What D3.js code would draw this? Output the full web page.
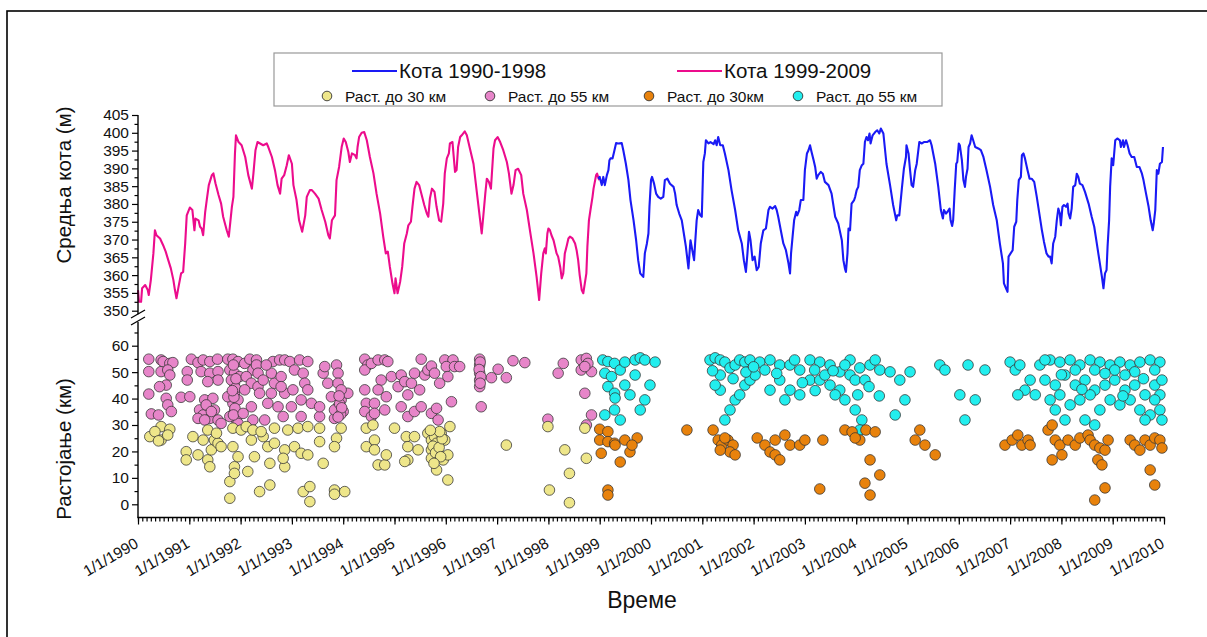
<!DOCTYPE html>
<html>
<head>
<meta charset="utf-8">
<script src="https://cdn.jsdelivr.net/npm/d3@7"></script>
<style>
  body { margin: 0; background: #fff; }
  svg text { font-family: "Liberation Sans", Arial, sans-serif; fill: #111; }
</style>
</head>
<body>
<script>
// mean water level (m), [decimal year, level]
var levelEarly = [
  [1990.00,355.8],[1990.02,352.5],[1990.06,352.5],[1990.08,356.3],[1990.14,357.2],[1990.19,355.8],[1990.21,354.4],
  [1990.25,358.6],[1990.30,366.1],[1990.33,372.6],[1990.36,371.2],[1990.43,370.3],[1990.49,368.4],[1990.54,366.6],
  [1990.59,364.2],[1990.64,361.9],[1990.69,358.6],[1990.72,355.8],[1990.75,353.5],[1990.79,356.7],[1990.84,360.5],
  [1990.88,360.9],[1990.92,368.9],[1990.95,376.8],[1991.01,379.0],[1991.06,378.3],[1991.10,372.6],[1991.12,375.9],
  [1991.18,375.4],[1991.21,373.6],[1991.24,373.1],[1991.27,371.2],[1991.31,377.8],[1991.34,381.1],[1991.38,385.3],
  [1991.44,388.1],[1991.47,388.6],[1991.51,385.8],[1991.57,382.5],[1991.62,380.1],[1991.66,376.4],[1991.73,372.6],
  [1991.77,370.8],[1991.83,379.2],[1991.86,382.0],[1991.89,394.2],[1991.91,399.3],[1991.96,397.4],[1992.02,396.5],
  [1992.09,393.2],[1992.15,388.1],[1992.22,384.3],[1992.25,388.6],[1992.29,395.1],[1992.33,397.4],[1992.38,397.0],
  [1992.44,396.5],[1992.51,397.0],[1992.54,396.0],[1992.61,393.2],[1992.67,389.5],[1992.72,385.3],[1992.77,382.9],
  [1992.80,387.1],[1992.85,388.1],[1992.90,390.9],[1992.94,393.7],[1993.00,391.3],[1993.03,385.3],[1993.09,381.1],
  [1993.14,375.4],[1993.20,372.2],[1993.26,376.8],[1993.29,382.0],[1993.35,383.9],[1993.39,383.9],[1993.45,382.9],
  [1993.52,381.5],[1993.58,378.3],[1993.65,375.0],[1993.71,371.2],[1993.74,370.3],[1993.78,375.4],[1993.84,376.8],
  [1993.87,386.7],[1993.92,390.4],[1993.97,396.0],[1994.01,398.4],[1994.05,397.4],[1994.10,394.6],[1994.13,391.8],
  [1994.17,394.2],[1994.23,393.7],[1994.26,392.8],[1994.28,396.0],[1994.31,398.8],[1994.36,400.0],[1994.41,400.2],
  [1994.46,397.9],[1994.52,393.2],[1994.59,388.6],[1994.65,382.9],[1994.72,377.3],[1994.78,370.8],[1994.83,366.1],
  [1994.87,366.6],[1994.91,362.3],[1994.96,357.7],[1995.00,354.9],[1995.02,359.1],[1995.06,354.9],[1995.11,358.1],
  [1995.15,362.3],[1995.19,368.9],[1995.24,371.7],[1995.27,374.0],[1995.32,375.0],[1995.35,379.2],[1995.39,384.3],
  [1995.43,386.2],[1995.48,385.3],[1995.53,382.5],[1995.58,379.7],[1995.63,377.3],[1995.66,376.4],[1995.69,381.5],
  [1995.73,384.3],[1995.78,383.4],[1995.82,379.2],[1995.87,375.4],[1995.91,375.0],[1995.95,380.1],[1995.98,388.5],
  [1996.02,392.8],[1996.06,394.2],[1996.08,397.0],[1996.13,397.4],[1996.18,389.0],[1996.21,389.5],[1996.24,396.0],
  [1996.28,398.8],[1996.31,399.3],[1996.37,400.4],[1996.41,399.3],[1996.47,395.6],[1996.54,391.3],[1996.60,383.9],
  [1996.67,375.4],[1996.70,371.7],[1996.73,376.4],[1996.77,382.9],[1996.80,387.1],[1996.84,386.2],[1996.88,384.3],
  [1996.93,395.6],[1996.96,397.9],[1997.01,398.8],[1997.06,397.4],[1997.12,395.1],[1997.19,391.8],[1997.23,388.6],
  [1997.28,382.9],[1997.32,385.3],[1997.36,389.5],[1997.41,389.9],[1997.47,388.1],[1997.51,382.9],[1997.58,378.3],
  [1997.64,372.6],[1997.71,366.1],[1997.77,359.5],[1997.82,353.0],[1997.86,360.5],[1997.90,366.1],[1997.93,367.5],
  [1997.95,366.1],[1997.98,371.7],[1998.00,373.1],[1998.03,372.6],[1998.06,371.2],[1998.10,369.8],[1998.13,368.0],
  [1998.16,366.1],[1998.19,365.2],[1998.23,362.3],[1998.26,359.1],[1998.29,360.5],[1998.32,366.1],[1998.36,368.4],
  [1998.39,370.3],[1998.42,370.8],[1998.47,370.3],[1998.52,368.9],[1998.55,367.0],[1998.58,364.2],[1998.61,360.0],
  [1998.65,355.8],[1998.68,354.9],[1998.71,357.7],[1998.74,360.5],[1998.76,368.0],[1998.79,375.4],[1998.82,378.3],
  [1998.86,382.0],[1998.88,384.3],[1998.93,388.1],[1998.95,388.5],[1998.99,386.7]
];

var levelLate = [
  [1998.97,387.1],[1999.00,387.6],[1999.04,385.3],[1999.07,387.6],[1999.10,385.3],[1999.14,388.1],[1999.17,389.5],
  [1999.19,392.3],[1999.21,392.8],[1999.25,392.8],[1999.28,394.6],[1999.32,397.1],[1999.36,397.0],[1999.43,397.1],
  [1999.46,395.1],[1999.51,391.3],[1999.56,386.7],[1999.60,381.1],[1999.66,375.4],[1999.71,369.8],[1999.75,364.2],
  [1999.79,360.5],[1999.82,360.0],[1999.85,359.5],[1999.88,366.1],[1999.92,368.9],[1999.95,371.7],[1999.97,379.2],
  [2000.00,386.7],[2000.02,387.6],[2000.06,385.7],[2000.10,382.9],[2000.14,382.0],[2000.19,381.5],[2000.24,382.0],
  [2000.27,386.7],[2000.32,387.1],[2000.37,385.7],[2000.44,384.8],[2000.47,382.9],[2000.50,379.7],[2000.55,377.3],
  [2000.60,375.4],[2000.64,371.7],[2000.68,368.0],[2000.73,361.9],[2000.76,368.0],[2000.77,369.8],[2000.81,366.6],
  [2000.84,364.2],[2000.86,368.9],[2000.89,375.4],[2000.92,378.3],[2000.96,376.8],[2000.99,376.4],[2001.02,391.8],
  [2001.05,394.2],[2001.07,397.9],[2001.12,397.0],[2001.16,397.4],[2001.22,396.8],[2001.25,397.9],[2001.28,396.5],
  [2001.31,398.8],[2001.35,396.5],[2001.40,396.5],[2001.44,394.2],[2001.51,389.5],[2001.57,383.9],[2001.64,378.3],
  [2001.70,372.6],[2001.77,368.9],[2001.81,364.2],[2001.85,360.9],[2001.88,366.1],[2001.91,372.2],[2001.94,369.8],
  [2001.98,364.2],[2002.02,365.2],[2002.06,361.4],[2002.10,362.3],[2002.14,368.9],[2002.19,372.6],[2002.24,373.1],
  [2002.29,378.3],[2002.32,379.2],[2002.37,378.7],[2002.42,379.4],[2002.45,378.3],[2002.48,376.4],[2002.53,372.6],
  [2002.58,368.9],[2002.63,367.0],[2002.68,363.3],[2002.71,360.5],[2002.73,366.1],[2002.76,370.8],[2002.79,375.4],
  [2002.83,377.8],[2002.85,376.8],[2002.89,378.3],[2002.92,381.1],[2002.97,381.1],[2003.00,389.5],[2003.04,394.2],
  [2003.07,395.1],[2003.10,396.5],[2003.13,394.6],[2003.17,392.3],[2003.20,390.4],[2003.23,387.1],[2003.26,388.1],
  [2003.31,389.0],[2003.35,388.5],[2003.39,386.2],[2003.46,385.3],[2003.52,382.9],[2003.59,376.4],[2003.65,374.5],
  [2003.72,369.8],[2003.75,364.2],[2003.78,361.9],[2003.80,360.9],[2003.83,366.1],[2003.85,373.1],[2003.88,372.6],
  [2003.91,380.1],[2003.96,381.1],[2003.98,382.0],[2004.01,383.9],[2004.04,384.8],[2004.07,389.5],[2004.11,390.9],
  [2004.14,391.3],[2004.17,397.4],[2004.20,398.8],[2004.23,397.9],[2004.26,399.8],[2004.28,397.0],[2004.32,399.3],
  [2004.37,400.2],[2004.41,400.7],[2004.45,399.8],[2004.48,401.2],[2004.53,399.8],[2004.59,391.3],[2004.66,385.3],
  [2004.72,379.7],[2004.78,375.4],[2004.80,376.8],[2004.84,376.8],[2004.89,384.3],[2004.93,389.9],[2004.97,393.2],
  [2004.98,396.5],[2005.02,394.2],[2005.05,389.5],[2005.08,385.3],[2005.11,384.8],[2005.15,389.5],[2005.18,391.3],
  [2005.23,397.4],[2005.28,397.0],[2005.32,397.4],[2005.38,397.4],[2005.44,397.9],[2005.47,396.5],[2005.54,391.3],
  [2005.60,384.8],[2005.65,378.3],[2005.69,375.9],[2005.71,378.3],[2005.75,377.3],[2005.78,377.8],[2005.82,378.7],
  [2005.84,375.4],[2005.87,373.8],[2005.89,375.4],[2005.92,383.9],[2005.95,391.3],[2005.97,391.8],[2006.00,397.0],
  [2006.02,396.5],[2006.06,392.3],[2006.09,386.7],[2006.12,384.8],[2006.14,387.6],[2006.17,389.9],[2006.19,396.0],
  [2006.22,397.0],[2006.25,399.3],[2006.27,398.4],[2006.32,396.0],[2006.38,395.6],[2006.43,395.1],[2006.48,393.2],
  [2006.54,389.5],[2006.61,384.8],[2006.67,379.7],[2006.74,375.4],[2006.80,368.9],[2006.86,363.3],[2006.88,357.7],
  [2006.92,356.3],[2006.95,355.3],[2006.97,365.2],[2007.01,366.1],[2007.05,367.0],[2007.08,373.6],[2007.12,375.0],
  [2007.14,381.1],[2007.17,386.7],[2007.21,387.6],[2007.23,393.7],[2007.26,394.2],[2007.29,392.8],[2007.34,389.5],
  [2007.38,387.1],[2007.42,387.1],[2007.47,386.2],[2007.52,382.0],[2007.57,377.3],[2007.62,372.6],[2007.66,369.4],
  [2007.71,366.1],[2007.75,365.2],[2007.78,365.2],[2007.81,363.3],[2007.84,368.9],[2007.88,370.8],[2007.91,375.4],
  [2007.94,378.7],[2007.97,377.3],[2007.99,374.0],[2008.02,379.2],[2008.05,379.7],[2008.09,379.2],[2008.12,380.1],
  [2008.14,377.3],[2008.17,375.9],[2008.20,378.7],[2008.23,384.8],[2008.27,385.3],[2008.30,388.5],[2008.33,387.6],
  [2008.36,385.7],[2008.41,385.3],[2008.46,383.4],[2008.53,380.1],[2008.59,376.4],[2008.64,373.6],[2008.69,368.9],
  [2008.74,364.2],[2008.79,359.5],[2008.82,356.3],[2008.85,360.5],[2008.88,361.4],[2008.90,368.0],[2008.93,375.4],
  [2008.95,384.8],[2008.98,392.8],[2009.01,390.9],[2009.05,397.9],[2009.09,398.4],[2009.14,397.9],[2009.16,396.0],
  [2009.20,397.9],[2009.22,396.0],[2009.26,397.9],[2009.29,396.5],[2009.33,394.2],[2009.37,393.2],[2009.42,393.2],
  [2009.47,390.4],[2009.52,390.4],[2009.57,388.5],[2009.60,386.7],[2009.65,382.9],[2009.70,379.2],[2009.74,375.4],
  [2009.78,372.6],[2009.80,374.5],[2009.83,378.3],[2009.86,389.5],[2009.89,388.5],[2009.92,391.3],[2009.96,391.8],
  [2009.98,396.0]
];

// distance (km), [decimal year, km]
var near55Early = [
  [1990.21,54.9],[1990.21,50.2],[1990.21,41.7],[1990.26,34.2],[1990.40,33.8],[1990.45,54.6],[1990.45,50.2],
  [1990.49,54.0],[1990.62,53.3],[1990.68,53.6],[1990.58,50.8],[1990.62,48.9],[1990.55,45.1],[1990.55,40.1],
  [1990.58,37.6],[1990.65,35.1],[1990.42,44.5],[1990.84,40.5],[1991.01,40.7],[1990.96,50.2],[1990.96,47.0],
  [1991.04,54.9],[1991.17,53.6],[1991.23,50.2],[1991.27,54.6],[1991.40,54.0],[1991.40,49.6],[1991.55,54.9],
  [1991.56,50.2],[1991.56,47.0],[1991.36,46.4],[1991.30,39.5],[1991.20,35.7],[1991.27,33.8],[1991.40,32.5],
  [1991.46,40.1],[1991.49,35.7],[1991.56,31.9],[1991.62,30.6],[1991.17,32.5],[1991.33,37.6],[1991.43,35.1],
  [1991.30,31.9],[1991.75,54.9],[1991.85,54.9],[1991.95,54.0],[1991.79,50.8],[1991.88,49.6],[1991.88,45.8],
  [1991.88,42.0],[1991.85,38.2],[1991.88,35.1],[1991.92,31.9],[1991.79,33.2],[1991.95,30.6],[1991.82,47.0],
  [1991.95,39.5],[1991.75,40.7],[1991.98,48.3],[1991.86,52.7],[1991.90,44.0],[1991.87,40.5],[1991.89,36.3],
  [1991.86,33.8],[1991.91,47.5],[1991.84,43.0],[1992.08,53.3],[1992.18,54.9],[1992.31,54.6],[1992.24,50.8],
  [1992.11,48.3],[1992.21,45.8],[1992.34,44.5],[1992.08,43.3],[1992.21,36.9],[1992.05,34.4],[1992.24,31.9],
  [1992.31,52.7],[1992.34,49.6],[1992.37,42.0],[1992.47,31.9],[1992.53,38.2],[1992.60,42.0],[1992.66,45.8],
  [1992.60,49.6],[1992.63,54.0],[1992.76,54.6],[1992.86,54.6],[1992.79,48.3],[1992.73,36.9],[1992.83,33.2],
  [1992.86,42.0],[1992.79,44.5],[1992.44,47.0],[1992.50,52.7],[1992.96,54.0],[1993.05,50.8],[1993.15,54.6],
  [1993.22,49.6],[1993.25,45.8],[1993.18,39.5],[1993.02,43.3],[1992.99,36.9],[1993.18,33.2],[1993.31,43.3],
  [1993.31,54.0],[1993.38,38.2],[1993.54,33.2],[1993.54,36.9],[1993.61,49.6],[1993.64,52.1],[1993.70,45.8],
  [1993.77,40.7],[1993.87,52.7],[1993.90,49.6],[1993.90,45.8],[1993.90,36.9],[1993.83,32.5],[1993.96,39.5],
  [1994.00,35.1],[1994.09,42.0],[1993.96,43.3],[1993.83,35.7],[1993.93,38.0],[1993.95,34.0],[1993.92,41.0],
  [1993.97,36.5],[1993.90,33.0],[1994.42,54.9],[1994.48,52.7],[1994.42,50.8],[1994.55,53.3],[1994.68,54.6],
  [1994.81,54.6],[1994.87,54.0],[1994.42,43.3],[1994.45,38.2],[1994.42,35.1],[1994.55,33.2],[1994.61,38.2],
  [1994.74,47.0],[1994.84,40.7],[1994.68,43.3],[1994.61,34.4],[1994.81,35.7],[1994.94,48.3],[1995.07,44.5],
  [1995.13,48.9],[1995.20,46.4],[1995.33,45.8],[1995.39,49.6],[1995.52,54.9],[1995.59,48.9],[1995.26,41.4],
  [1995.13,36.9],[1995.26,33.2],[1995.39,35.1],[1995.52,36.9],[1995.65,50.8],[1995.72,52.3],[1995.49,43.3],
  [1995.72,34.4],[1995.82,36.3],[1995.85,31.9],[1995.78,49.6],[1995.98,54.6],[1996.14,54.6],[1996.01,52.1],
  [1996.17,52.1],[1996.27,52.1],[1996.04,48.3],[1996.11,38.8],[1995.88,45.8],[1996.66,54.9],[1996.66,52.7],
  [1996.66,49.6],[1996.66,47.0],[1996.66,44.5],[1996.69,36.9],[1996.89,47.9],[1997.02,51.1],[1997.18,47.9],
  [1997.31,54.3],[1997.54,53.6],[1996.67,53.8],[1996.65,51.0],[1996.68,48.3],[1996.67,45.8],[1997.99,32.2],
  [1998.19,49.6],[1998.29,53.3],[1998.64,54.6],[1998.64,50.8],[1998.74,55.2],[1998.84,50.2],[1998.71,42.0],
  [1998.84,33.8],[1998.74,30.0],[1998.77,53.3],[1998.71,52.1]
];

var near30Early = [
  [1990.23,25.6],[1990.45,29.4],[1990.45,24.3],[1990.62,28.4],[1990.58,26.2],[1990.33,27.5],[1990.40,24.0],
  [1990.94,19.9],[1990.94,16.8],[1991.07,25.6],[1991.17,18.7],[1991.27,24.3],[1991.36,16.8],[1991.40,14.2],
  [1991.43,20.6],[1991.49,24.3],[1991.56,23.1],[1991.62,21.8],[1991.36,28.1],[1991.53,26.9],[1991.79,8.6],
  [1991.79,2.3],[1991.88,14.2],[1991.88,11.7],[1991.95,18.0],[1991.85,21.8],[1991.85,28.8],[1992.01,28.1],
  [1992.14,12.4],[1992.21,24.3],[1992.27,18.0],[1992.11,29.4],[1992.24,28.1],[1992.37,4.8],[1992.44,25.6],
  [1992.40,27.5],[1992.57,7.3],[1992.57,15.5],[1992.53,21.8],[1992.66,23.1],[1992.66,28.8],[1992.86,20.6],
  [1992.86,14.2],[1992.83,17.4],[1992.92,28.1],[1993.05,21.8],[1993.12,28.8],[1993.22,4.8],[1993.18,19.3],
  [1993.31,18.7],[1993.31,29.4],[1993.35,1.0],[1993.35,6.7],[1993.61,15.5],[1993.54,28.8],[1993.54,23.7],
  [1993.83,5.4],[1993.87,25.0],[1993.83,21.8],[1994.03,4.8],[1993.96,28.8],[1993.83,3.8],[1994.45,28.8],
  [1994.45,21.8],[1994.58,30.0],[1994.61,24.3],[1994.61,20.6],[1994.68,14.9],[1994.81,14.9],[1994.84,18.7],
  [1995.00,28.8],[1995.23,25.6],[1995.39,25.6],[1995.26,16.8],[1995.26,21.8],[1995.46,20.6],[1995.20,16.2],
  [1995.65,26.9],[1995.72,24.3],[1995.72,20.6],[1995.72,17.4],[1995.78,25.6],[1995.82,23.1],[1995.85,19.3],
  [1995.91,26.9],[1995.95,16.8],[1996.04,18.7],[1996.08,29.4],[1995.82,13.0],[1996.04,9.2],[1995.98,24.3],
  [1995.75,22.0],[1995.80,19.5],[1995.87,21.5],[1995.90,18.0],[1995.77,15.5],[1995.93,24.8],[1995.88,27.5],
  [1995.70,28.0],[1997.18,22.4],[1997.99,29.4],[1998.32,20.6],[1998.41,11.7],[1998.02,5.4],[1998.41,0.6],
  [1998.74,17.4],[1998.71,28.8]
];

var near30Late = [
  [1999.00,28.4],[1999.16,27.5],[1999.00,24.3],[1999.16,23.7],[1999.03,19.3],[1999.29,23.1],[1999.16,5.4],
  [1999.16,3.5],[1999.30,22.4],[1999.49,24.3],[1999.59,19.8],[1999.40,16.0],[1999.73,25.1],[1999.63,22.4],
  [2000.70,28.1],[2001.21,28.1],[2001.31,24.3],[2001.38,22.4],[2001.50,24.3],[2001.60,22.4],[2001.54,19.8],
  [2001.35,20.5],[2001.64,18.7],[2001.44,25.1],[2002.07,25.1],[2002.22,22.4],[2002.32,19.8],[2002.42,18.7],
  [2002.51,16.8],[2002.42,24.3],[2002.61,26.2],[2002.71,22.4],[2002.90,22.4],[2003.29,5.8],[2003.35,24.3],
  [2003.00,24.3],[2003.78,28.1],[2003.92,27.4],[2004.07,24.3],[2004.19,28.1],[2004.27,16.8],[2004.37,27.4],
  [2004.17,8.0],[2004.27,3.5],[2004.46,11.1],[2003.98,25.1],[2005.15,24.3],[2005.34,22.4],[2005.54,18.7],
  [2005.24,28.1],[2006.90,22.4],[2007.04,24.3],[2007.15,26.2],[2007.23,22.4],[2007.35,24.3],[2007.39,22.4],
  [2007.74,28.1],[2007.82,30.0],[2007.88,24.3],[2007.97,22.4],[2008.01,18.7],[2008.13,24.3],[2008.27,22.4],
  [2008.36,25.1],[2007.82,16.8],[2008.52,26.2],[2008.56,24.3],[2008.65,22.4],[2008.75,21.3],[2008.71,16.8],
  [2008.79,14.9],[2008.85,20.5],[2008.91,24.3],[2008.65,1.6],[2008.85,6.2],[2009.34,24.3],[2009.43,22.4],
  [2009.53,20.5],[2009.63,24.3],[2009.73,22.4],[2009.82,25.1],[2009.73,13.0],[2009.82,7.3],[2009.92,24.3],
  [2009.96,21.3]
];

var near55Late = [
  [1999.06,54.6],[1999.16,54.0],[1999.29,53.3],[1999.10,49.6],[1999.23,48.3],[1999.16,44.5],[1999.29,42.0],
  [1999.10,33.8],[1999.29,35.7],[1999.40,50.8],[1999.49,53.8],[1999.69,54.6],[1999.79,55.4],[1999.88,54.6],
  [1999.98,45.1],[1999.88,39.5],[1999.79,35.7],[1999.59,41.4],[1999.40,31.9],[1999.49,45.1],[1999.69,48.9],
  [1999.30,40.2],[2000.08,53.8],[2001.15,54.6],[2001.25,55.4],[2001.35,54.6],[2001.44,53.8],[2001.54,51.6],
  [2001.64,52.7],[2001.73,54.6],[2001.83,53.8],[2001.93,54.6],[2001.35,43.2],[2001.44,31.9],[2001.54,35.7],
  [2001.64,39.5],[2001.73,41.4],[2001.83,45.1],[2001.93,47.0],[2002.03,48.9],[2001.35,48.9],[2001.25,45.1],
  [2002.12,53.8],[2002.32,54.6],[2002.51,52.7],[2002.71,52.7],[2002.90,50.8],[2003.10,54.6],[2003.29,53.8],
  [2003.49,52.7],[2003.68,50.1],[2003.88,54.6],[2004.07,51.6],[2002.32,43.2],[2002.51,47.0],[2002.71,43.2],
  [2002.90,41.4],[2003.10,47.0],[2003.29,47.0],[2003.49,45.1],[2003.68,43.2],[2003.88,48.9],[2003.98,47.0],
  [2003.59,41.4],[2003.78,39.5],[2003.98,35.7],[2004.11,31.9],[2004.07,28.1],[2002.22,50.8],[2002.80,54.6],
  [2003.19,50.8],[2003.39,48.9],[2003.78,52.7],[2004.17,47.0],[2004.03,41.4],[2002.61,39.5],[2004.27,52.7],
  [2004.46,50.8],[2004.66,50.1],[2004.85,47.0],[2005.05,50.1],[2004.95,39.5],[2004.76,33.8],[2004.37,54.6],
  [2005.63,52.7],[2005.73,50.8],[2006.02,41.4],[2006.12,31.9],[2006.32,39.5],[2006.51,50.8],[2006.18,52.7],
  [2007.00,53.8],[2007.10,50.8],[2007.19,52.7],[2007.29,43.2],[2007.39,47.0],[2007.49,41.4],[2007.15,41.4],
  [2007.58,52.7],[2007.78,54.6],[2007.97,53.8],[2008.17,54.6],[2008.36,52.7],[2008.56,54.6],[2008.75,53.8],
  [2008.95,52.7],[2009.14,53.8],[2009.34,52.7],[2009.53,53.8],[2009.73,54.6],[2009.92,53.8],[2007.68,47.0],
  [2007.88,45.1],[2008.07,48.9],[2008.27,45.1],[2008.46,47.0],[2008.65,43.2],[2008.85,45.1],[2009.04,47.0],
  [2009.24,43.2],[2009.43,45.1],[2009.63,41.4],[2009.82,45.1],[2009.92,41.4],[2007.78,39.5],[2007.97,41.4],
  [2008.17,37.6],[2008.36,39.5],[2008.56,41.4],[2008.75,35.7],[2008.95,39.5],[2009.14,37.6],[2009.53,35.7],
  [2009.73,33.8],[2009.63,31.9],[2009.92,35.7],[2007.88,35.7],[2008.07,31.9],[2008.46,31.9],[2008.65,30.0],
  [2007.68,54.6],[2008.27,50.8],[2008.65,50.8],[2009.04,50.8],[2009.43,50.1],[2009.82,50.8],[2009.24,48.9],
  [2009.96,47.0],[2009.34,39.5],[2009.82,39.5],[2009.96,31.9],
  [2001.20,50.5],[2001.60,47.5],[2001.85,50.0],[2002.00,52.0],[2002.45,49.5],[2002.95,46.0],[2003.20,43.0],
  [2003.55,50.5],[2004.25,44.5],[2004.45,41.0],[2008.00,49.0],[2008.40,43.5],[2008.85,49.5],[2009.20,41.0],
  [2009.60,47.5]
];

var levelTicks = d3.range(350, 406, 5);
var kmTicks = d3.range(0, 61, 10);
var yearTicks = d3.range(1990, 2011);

var colors = {
    lineEarly: "#ec0c8c",
    lineLate: "#1a1af5",
    near30Early: "#eee68a",
    near55Early: "#e785c9",
    near30Late: "#e8820c",
    near55Late: "#22eeee"
};

var svgWidth = 1207;
var svgHeight = 637;

var svg = d3.select("body")
        .append("svg")
        .attr("width", svgWidth)
        .attr("height", svgHeight);

// outer frame (only top and left edge visible)
svg.append("rect")
        .attr("x", 7).attr("y", 11)
        .attr("width", 1400).attr("height", 900)
        .attr("fill", "none")
        .attr("stroke", "#000")
        .attr("stroke-width", 1.6);

var xScale = d3.scaleLinear().domain([1990, 2010]).range([138, 1164]);
var yLevel = d3.scaleLinear().domain([350, 405]).range([310.7, 115]);
var yKm = d3.scaleLinear().domain([0, 60]).range([504.3, 345.7]);
var axisY = yKm(-5);

// ---- upper panel: level lines
var line = d3.line()
        .x(function (d) { return xScale(d[0]); })
        .y(function (d) { return yLevel(d[1]); });

svg.append("path").datum(levelEarly)
        .attr("d", line).attr("fill", "none")
        .attr("stroke", colors.lineEarly).attr("stroke-width", 2.1)
        .attr("stroke-linejoin", "round");

svg.append("path").datum(levelLate)
        .attr("d", line).attr("fill", "none")
        .attr("stroke", colors.lineLate).attr("stroke-width", 2.1)
        .attr("stroke-linejoin", "round");

// ---- lower panel: distance scatter
function drawDots(data, color) {
    svg.append("g").selectAll("circle")
            .data(data)
            .enter()
            .append("circle")
            .attr("cx", function (d) { return xScale(d[0]); })
            .attr("cy", function (d) { return yKm(d[1]); })
            .attr("r", 5.3)
            .attr("fill", color)
            .attr("stroke", "#333")
            .attr("stroke-opacity", 0.85)
            .attr("stroke-width", 0.9);
}
drawDots(near55Early, colors.near55Early);
drawDots(near30Early, colors.near30Early);
drawDots(near55Late, colors.near55Late);
drawDots(near30Late, colors.near30Late);

// ---- axes
function styleAxis(g) {
    g.select(".domain").remove();
    g.selectAll("line").attr("stroke", "#000").attr("stroke-width", 1.2);
    g.selectAll("text").style("font-size", "15.5px").attr("fill", "#111");
}

// upper y axis
svg.append("g")
        .attr("transform", "translate(138,0)")
        .call(d3.axisLeft(yLevel).tickValues(d3.range(352.5, 405, 5)).tickFormat("").tickSize(3.5))
        .call(styleAxis);
svg.append("g")
        .attr("transform", "translate(138,0)")
        .call(d3.axisLeft(yLevel).tickValues(levelTicks).tickSize(6).tickPadding(3))
        .call(styleAxis);
svg.append("line")
        .attr("x1", 138).attr("x2", 138)
        .attr("y1", yLevel(405)).attr("y2", yLevel(349))
        .attr("stroke", "#000").attr("stroke-width", 1.4);

// lower y axis
svg.append("g")
        .attr("transform", "translate(138,0)")
        .call(d3.axisLeft(yKm).tickValues(d3.range(5, 66, 10)).tickFormat("").tickSize(3.5))
        .call(styleAxis);
svg.append("g")
        .attr("transform", "translate(138,0)")
        .call(d3.axisLeft(yKm).tickValues(kmTicks).tickSize(6).tickPadding(3))
        .call(styleAxis);
svg.append("line")
        .attr("x1", 138).attr("x2", 138)
        .attr("y1", yKm(69)).attr("y2", axisY)
        .attr("stroke", "#000").attr("stroke-width", 1.4);

// axis break marks
[0, 7].forEach(function (off) {
    svg.append("line")
            .attr("x1", 131).attr("y1", 318 + off)
            .attr("x2", 145).attr("y2", 310 + off)
            .attr("stroke", "#000").attr("stroke-width", 1.3);
});

// x axis
svg.append("g")
        .attr("transform", "translate(0," + axisY + ")")
        .call(d3.axisBottom(xScale).tickValues(d3.range(0, 241).map(function (m) { return 1990 + m / 12; }))
                .tickFormat("").tickSize(4))
        .call(styleAxis);
var xAxisG = svg.append("g")
        .attr("transform", "translate(0," + axisY + ")")
        .call(d3.axisBottom(xScale).tickValues(yearTicks)
                .tickFormat(function (d) { return "1/1/" + d; }).tickSize(7))
        .call(styleAxis);
xAxisG.selectAll("text")
        .attr("x", 0).attr("y", 0).attr("dy", 0)
        .attr("text-anchor", "end")
        .attr("transform", "translate(1,29) rotate(-30)");
svg.append("line")
        .attr("x1", 137.3).attr("x2", 1164.7)
        .attr("y1", axisY).attr("y2", axisY)
        .attr("stroke", "#000").attr("stroke-width", 1.4);

// ---- titles
svg.append("text")
        .attr("x", 642).attr("y", 608)
        .attr("text-anchor", "middle")
        .style("font-size", "23px")
        .text("Време");

svg.append("text")
        .attr("transform", "translate(71,185) rotate(-90)")
        .attr("text-anchor", "middle")
        .style("font-size", "20.5px")
        .text("Средња кота (м)");

svg.append("text")
        .attr("transform", "translate(71,449) rotate(-90)")
        .attr("text-anchor", "middle")
        .style("font-size", "20.5px")
        .text("Растојање (км)");

// ---- legend
var legend = svg.append("g");
legend.append("rect")
        .attr("x", 274).attr("y", 53)
        .attr("width", 668).attr("height", 53)
        .attr("fill", "#fff")
        .attr("stroke", "#999")
        .attr("stroke-width", 1.2);

var lineItems = [
    {label: "Кота 1990-1998", color: colors.lineLate, x: 352},
    {label: "Кота 1999-2009", color: colors.lineEarly, x: 677}
];
lineItems.forEach(function (it) {
    legend.append("line")
            .attr("x1", it.x).attr("x2", it.x + 45)
            .attr("y1", 71).attr("y2", 71)
            .attr("stroke", it.color).attr("stroke-width", 2);
    legend.append("text")
            .attr("x", it.x + 47).attr("y", 78)
            .style("font-size", "20.5px")
            .text(it.label);
});

var dotItems = [
    {label: "Раст. до 30 км", color: colors.near30Early, x: 327},
    {label: "Раст. до 55 км", color: colors.near55Early, x: 490},
    {label: "Раст. до 30км", color: colors.near30Late, x: 649},
    {label: "Раст. до 55 км", color: colors.near55Late, x: 798}
];
dotItems.forEach(function (it) {
    legend.append("circle")
            .attr("cx", it.x).attr("cy", 96)
            .attr("r", 4.8)
            .attr("fill", it.color)
            .attr("stroke", "#333")
            .attr("stroke-width", 0.9);
    legend.append("text")
            .attr("x", it.x + 18).attr("y", 101.5)
            .style("font-size", "15.5px")
            .text(it.label);
});
</script>
</body>
</html>
